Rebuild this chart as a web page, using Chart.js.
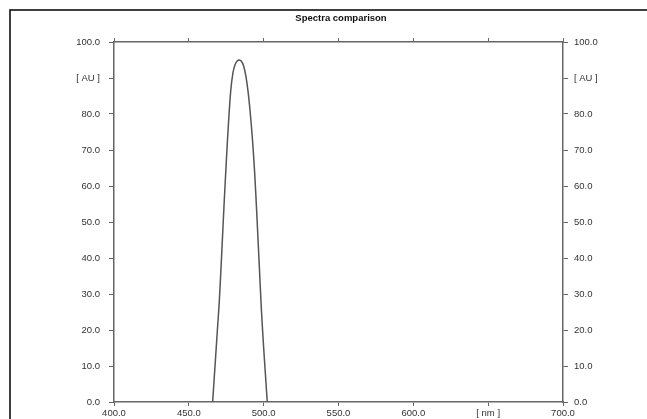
<!DOCTYPE html>
<html>
<head>
<meta charset="utf-8">
<script src="https://cdn.jsdelivr.net/npm/chart.js@4/dist/chart.umd.min.js"></script>
<style>
  html, body { margin: 0; padding: 0; background: #fff; }
  #wrap { width: 647px; height: 419px; position: relative; }
</style>
</head>
<body>
<div id="wrap"><canvas id="spectra"></canvas></div>
<script>
// spectrum
const wavelengths = [465.9, 467.5, 469.0, 470.4, 472.0, 473.5, 475.0, 476.5, 478.0, 479.5, 481.0, 482.5, 483.7,
                     485.0, 486.5, 488.0, 489.5, 491.0, 492.5, 494.0, 495.5, 497.0, 498.5, 500.0, 501.2, 502.4];
const absorbance  = [0.0, 10.0, 19.5, 28.3, 41.5, 54.5, 66.5, 77.5, 86.5, 91.5, 93.8, 94.8, 95.0,
                     94.7, 93.5, 90.8, 86.5, 80.5, 73.0, 63.5, 51.5, 38.5, 25.5, 15.0, 7.5, 0.0];

const xMin = 400, xMax = 700, xStep = 50;
const yMin = 0, yMax = 100, yStep = 10;
const xUnitAt = 650, yUnitAt = 90;
const xUnit = '[ nm ]', yUnit = '[ AU ]';
const chartTitle = 'Spectra comparison';

const axisColor = '#666';
const labelColor = '#333';
const tickFont = { family: 'Liberation Sans, Arial, sans-serif', size: 9.5 };

const yLabel = v => (v === yUnitAt ? yUnit : v.toFixed(1));
const xLabel = v => (v === xUnitAt ? xUnit : v.toFixed(1));

const frame = {
    id: 'frame',
    beforeDraw(chart) {
        const c = chart.ctx;
        c.save();
        c.strokeStyle = '#000';
        c.lineWidth = 1.5;
        c.beginPath();
        c.moveTo(10, chart.height);
        c.lineTo(10, 10);
        c.lineTo(chart.width, 10);
        c.stroke();
        c.fillStyle = '#111';
        c.font = 'bold 9.5px Liberation Sans, Arial, sans-serif';
        c.textAlign = 'center';
        c.textBaseline = 'middle';
        c.fillText(chartTitle, 341, 18);
        c.restore();
    }
};

const fixSize = (w, h) => scale => {
    if (w !== null) scale.width = w;
    if (h !== null) scale.height = h;
};

new Chart(document.getElementById('spectra').getContext('2d'), {
    type: 'scatter',
    data: {
        datasets: [{
            data: wavelengths.map((w, i) => ({ x: w, y: absorbance[i] })),
            showLine: true,
            borderColor: '#555',
            borderWidth: 1.5,
            pointRadius: 0,
            tension: 0.3,
            fill: false
        }]
    },
    options: {
        responsive: true,
        maintainAspectRatio: false,
        animation: false,
        layout: { padding: 0 },
        plugins: {
            legend: { display: false },
            tooltip: { enabled: false },
            title: { display: false }
        },
        scales: {
            x: {
                type: 'linear', position: 'bottom',
                min: xMin, max: xMax,
                afterFit: fixSize(null, 17),
                border: { color: axisColor, width: 1.5 },
                grid: { drawOnChartArea: false, color: axisColor, tickLength: 4, lineWidth: 1 },
                ticks: { stepSize: xStep, color: labelColor, font: tickFont, padding: 2, maxRotation: 0, callback: xLabel }
            },
            x2: {
                type: 'linear', position: 'top',
                min: xMin, max: xMax,
                afterFit: fixSize(null, 42),
                border: { color: axisColor, width: 1.5 },
                grid: { drawOnChartArea: false, color: axisColor, tickLength: 4, lineWidth: 1 },
                ticks: { stepSize: xStep, callback: () => '' }
            },
            y: {
                type: 'linear', position: 'left',
                min: yMin, max: yMax,
                afterFit: fixSize(114, null),
                border: { color: axisColor, width: 1.5 },
                grid: { drawOnChartArea: false, color: axisColor, tickLength: 5, lineWidth: 1 },
                ticks: { stepSize: yStep, color: labelColor, font: tickFont, padding: 9, callback: yLabel }
            },
            y2: {
                type: 'linear', position: 'right',
                min: yMin, max: yMax,
                afterFit: fixSize(84, null),
                border: { color: axisColor, width: 1.5 },
                grid: { drawOnChartArea: false, color: axisColor, tickLength: 5, lineWidth: 1 },
                ticks: { stepSize: yStep, color: labelColor, font: tickFont, padding: 6, callback: yLabel }
            }
        }
    },
    plugins: [frame]
});
</script>
</body>
</html>
